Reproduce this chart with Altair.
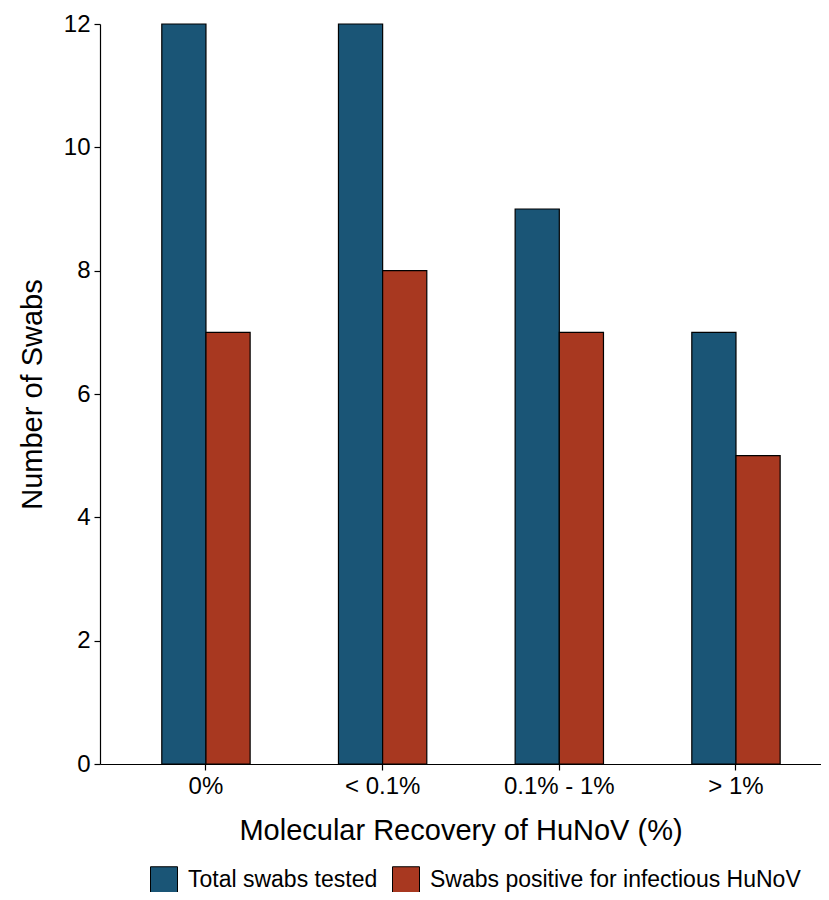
import altair as alt
import pandas as pd

categories = ["0%", "< 0.1%", "0.1% - 1%", "> 1%"]
series = ["Total swabs tested", "Swabs positive for infectious HuNoV"]
total_tested = [12, 12, 9, 7]
positive = [7, 8, 7, 5]
colors = ["#1A5576", "#A83820"]

rows = []
for c, t, p in zip(categories, total_tested, positive):
    rows.append({"cat": c, "series": series[0], "value": t})
    rows.append({"cat": c, "series": series[1], "value": p})
df = pd.DataFrame(rows)

FONT = "Liberation Sans"

chart = alt.Chart(df).mark_bar(stroke="black", strokeWidth=1.2).encode(
    x=alt.X(
        "cat:N",
        sort=categories,
        scale=alt.Scale(paddingInner=0.5, paddingOuter=0.2905, align=0.602),
        axis=alt.Axis(
            title="Molecular Recovery of HuNoV (%)",
            labelAngle=0,
            labelFontSize=24,
            titleFontSize=29,
            labelPadding=4,
            titlePadding=18,
            tickSize=6,
            domainColor="black",
            tickColor="black",
            labelColor="black",
            titleColor="black",
            titleFontWeight="normal",
            labelFont=FONT,
            titleFont=FONT,
        ),
    ),
    xOffset=alt.XOffset("series:N", sort=series, scale=alt.Scale(paddingInner=0, paddingOuter=0)),
    y=alt.Y(
        "value:Q",
        scale=alt.Scale(domain=[0, 12], nice=False, zero=True),
        axis=alt.Axis(
            title="Number of Swabs",
            values=[0, 2, 4, 6, 8, 10, 12],
            grid=False,
            labelFontSize=24,
            titleFontSize=29,
            labelPadding=4,
            titlePadding=16,
            tickSize=6,
            domainColor="black",
            tickColor="black",
            labelColor="black",
            titleColor="black",
            titleFontWeight="normal",
            labelFont=FONT,
            titleFont=FONT,
        ),
    ),
    color=alt.Color(
        "series:N",
        sort=series,
        scale=alt.Scale(domain=series, range=colors),
        legend=alt.Legend(
            title=None,
            orient="none",
            direction="horizontal",
            legendX=50,
            legendY=842,
            symbolType="square",
            symbolSize=729,
            symbolStrokeColor="black",
            symbolStrokeWidth=1,
            symbolOpacity=1,
            labelFontSize=23,
            labelFont=FONT,
            labelColor="black",
            labelOffset=10,
            columnPadding=12,
            labelLimit=500,
        ),
    ),
).properties(
    width=721,
    height=740,
    autosize=alt.AutoSizeParams(type="none"),
    padding={"left": 92, "top": 16, "right": 0, "bottom": 128},
).configure_view(
    stroke=None
).configure_axis(
    domainWidth=1.2, tickWidth=1.2
)

chart.save("out.html", embed_options={"renderer": "svg", "actions": False})
